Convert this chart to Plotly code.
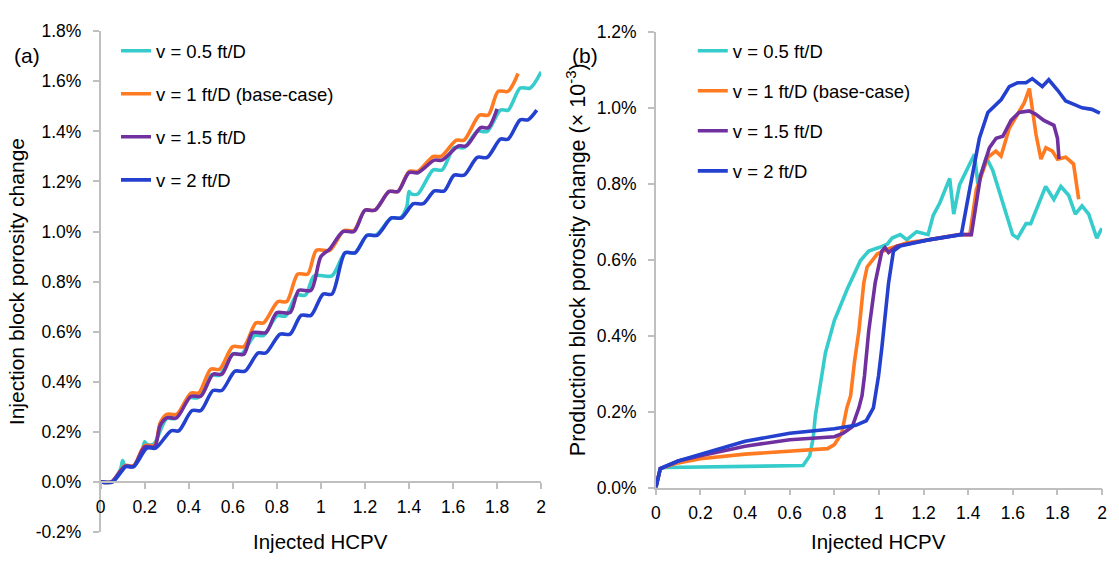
import plotly.graph_objects as go

W, H = 1119, 568

# Series labels and colours (shared by both panels)
series_names = ["v = 0.5 ft/D", "v = 1 ft/D (base-case)", "v = 1.5 ft/D", "v = 2 ft/D"]
series_colors = ["#36CCCC", "#FF7A21", "#7030A0", "#2440CF"]

# ---- (a) Injection block porosity change (%), vs injected HCPV ----
inj_x_v05 = [0, 0.05, 0.09, 0.1, 0.11, 0.15, 0.19, 0.2, 0.21, 0.24, 0.3, 0.34, 0.4, 0.44, 0.5, 0.54,
             0.6, 0.64, 0.7, 0.74, 0.8, 0.84, 0.89, 0.93, 0.97, 1.05, 1.11, 1.155, 1.21, 1.25, 1.32,
             1.36, 1.39, 1.40, 1.41, 1.44, 1.51, 1.55, 1.605, 1.65, 1.71, 1.755, 1.815, 1.85, 1.905,
             1.95, 2.0]
inj_y_v05 = [0, 0, 0.05, 0.085, 0.065, 0.065, 0.13, 0.16, 0.15, 0.15, 0.253, 0.253, 0.336, 0.336,
             0.426, 0.426, 0.511, 0.511, 0.585, 0.585, 0.663, 0.663, 0.746, 0.746, 0.823, 0.823,
             0.915, 0.915, 0.985, 0.985, 1.054, 1.054, 1.10, 1.16, 1.15, 1.15, 1.246, 1.246, 1.335,
             1.335, 1.40, 1.40, 1.485, 1.485, 1.573, 1.573, 1.638]

inj_x_v10 = [0, 0.05, 0.11, 0.15, 0.2, 0.245, 0.27, 0.3, 0.345, 0.41, 0.445, 0.5, 0.54, 0.6, 0.65,
             0.705, 0.74, 0.805, 0.845, 0.895, 0.94, 0.98, 1.04, 1.105, 1.15, 1.2, 1.245, 1.31, 1.35,
             1.4, 1.44, 1.51, 1.545, 1.615, 1.65, 1.72, 1.76, 1.805, 1.85, 1.895]
inj_y_v10 = [0, 0, 0.065, 0.065, 0.145, 0.145, 0.235, 0.27, 0.27, 0.355, 0.355, 0.45, 0.45, 0.54,
             0.54, 0.635, 0.635, 0.72, 0.72, 0.83, 0.83, 0.925, 0.925, 1.004, 1.004, 1.085, 1.085,
             1.16, 1.16, 1.24, 1.24, 1.30, 1.30, 1.365, 1.365, 1.465, 1.465, 1.56, 1.56, 1.631]

inj_x_v15 = [0, 0.05, 0.11, 0.15, 0.2, 0.245, 0.27, 0.3, 0.345, 0.41, 0.455, 0.51, 0.55, 0.6, 0.65,
             0.69, 0.75, 0.8, 0.86, 0.9, 0.955, 1.0, 1.04, 1.1, 1.15, 1.2, 1.245, 1.31, 1.35, 1.4,
             1.44, 1.515, 1.55, 1.625, 1.66, 1.725, 1.76, 1.80]
inj_y_v15 = [0, 0, 0.062, 0.062, 0.14, 0.14, 0.225, 0.256, 0.256, 0.342, 0.342, 0.43, 0.43, 0.51,
             0.51, 0.596, 0.596, 0.676, 0.676, 0.765, 0.765, 0.90, 0.93, 1.0, 1.0, 1.085, 1.085,
             1.16, 1.16, 1.235, 1.235, 1.285, 1.285, 1.342, 1.342, 1.415, 1.415, 1.49]

inj_x_v20 = [0, 0.055, 0.115, 0.15, 0.21, 0.25, 0.32, 0.355, 0.415, 0.455, 0.51, 0.55, 0.61, 0.655,
             0.715, 0.75, 0.815, 0.86, 0.91, 0.955, 1.01, 1.05, 1.11, 1.155, 1.21, 1.255, 1.32,
             1.365, 1.42, 1.465, 1.515, 1.56, 1.605, 1.65, 1.71, 1.755, 1.815, 1.85, 1.905, 1.94,
             1.98]
inj_y_v20 = [0, 0, 0.061, 0.061, 0.135, 0.135, 0.204, 0.204, 0.285, 0.285, 0.365, 0.365, 0.442,
             0.442, 0.515, 0.515, 0.59, 0.59, 0.665, 0.665, 0.75, 0.75, 0.915, 0.915, 0.985, 0.985,
             1.054, 1.054, 1.111, 1.111, 1.162, 1.162, 1.225, 1.225, 1.296, 1.296, 1.369, 1.369,
             1.446, 1.446, 1.485]

# ---- (b) Production block porosity change (%, x 10^-3), vs injected HCPV ----
prod_x_v05 = [0, 0.01, 0.02, 0.04, 0.3, 0.5, 0.66, 0.69, 0.705, 0.715, 0.728, 0.745, 0.76, 0.8,
              0.827, 0.858, 0.917, 0.954, 1.0, 1.037, 1.059, 1.095, 1.125, 1.154, 1.169, 1.22, 1.243,
              1.273, 1.317, 1.335, 1.361, 1.428, 1.443, 1.481, 1.51, 1.56, 1.599, 1.621, 1.659,
              1.68, 1.747, 1.784, 1.815, 1.85, 1.88, 1.91, 1.94, 1.976, 1.999]
prod_y_v05 = [0, 0.03, 0.05, 0.053, 0.056, 0.057, 0.058, 0.084, 0.13, 0.19, 0.242, 0.31, 0.355,
              0.44, 0.479, 0.523, 0.598, 0.623, 0.632, 0.641, 0.657, 0.666, 0.653, 0.666, 0.674,
              0.666, 0.717, 0.75, 0.814, 0.72, 0.797, 0.878, 0.80, 0.87, 0.835, 0.74, 0.666, 0.657,
              0.695, 0.695, 0.793, 0.759, 0.793, 0.77, 0.72, 0.742, 0.72, 0.657, 0.683]

prod_x_v10 = [0, 0.01, 0.02, 0.1, 0.2, 0.4, 0.6, 0.77, 0.8, 0.833, 0.856, 0.873, 0.89, 0.91, 0.932,
              0.947, 0.992, 1.037, 1.126, 1.228, 1.361, 1.407, 1.436, 1.488, 1.524, 1.547, 1.584,
              1.651, 1.674, 1.704, 1.726, 1.748, 1.777, 1.8, 1.837, 1.872, 1.895]
prod_y_v10 = [0, 0.03, 0.05, 0.065, 0.076, 0.088, 0.097, 0.1025, 0.113, 0.143, 0.21, 0.242, 0.33,
              0.412, 0.539, 0.581, 0.615, 0.628, 0.645, 0.653, 0.666, 0.666, 0.784, 0.87, 0.886,
              0.873, 0.946, 1.013, 1.051, 0.929, 0.865, 0.895, 0.886, 0.865, 0.87, 0.852, 0.759]

prod_x_v15 = [0, 0.01, 0.02, 0.1, 0.2, 0.4, 0.6, 0.8, 0.84, 0.88, 0.91, 0.924, 0.935, 0.954, 0.983,
              1.013, 1.027, 1.043, 1.081, 1.228, 1.361, 1.414, 1.435, 1.455, 1.495, 1.525, 1.555,
              1.592, 1.628, 1.673, 1.703, 1.739, 1.784, 1.8, 1.807]
prod_y_v15 = [0, 0.03, 0.05, 0.07, 0.084, 0.109, 0.126, 0.134, 0.143, 0.16, 0.21, 0.242, 0.294,
              0.412, 0.539, 0.623, 0.632, 0.619, 0.636, 0.653, 0.666, 0.666, 0.75, 0.82, 0.895,
              0.92, 0.925, 0.967, 0.988, 0.992, 0.983, 0.967, 0.954, 0.92, 0.865]

prod_x_v20 = [0, 0.01, 0.02, 0.1, 0.2, 0.4, 0.6, 0.8, 0.896, 0.943, 0.975, 0.984, 0.998, 1.013,
              1.043, 1.065, 1.095, 1.228, 1.369, 1.406, 1.45, 1.488, 1.525, 1.548, 1.584, 1.621,
              1.659, 1.687, 1.732, 1.761, 1.8, 1.837, 1.874, 1.91, 1.954, 1.99]
prod_y_v20 = [0, 0.03, 0.05, 0.07, 0.088, 0.122, 0.143, 0.155, 0.164, 0.176, 0.21, 0.242, 0.294,
              0.369, 0.539, 0.623, 0.636, 0.653, 0.666, 0.784, 0.92, 0.988, 1.009, 1.022, 1.056,
              1.066, 1.066, 1.077, 1.056, 1.074, 1.047, 1.018, 1.009, 1.0, 0.996, 0.986]

# Axis ticks
hcpv_ticks = [0, 0.2, 0.4, 0.6, 0.8, 1, 1.2, 1.4, 1.6, 1.8, 2]
hcpv_ticktext = ["0", "0.2", "0.4", "0.6", "0.8", "1", "1.2", "1.4", "1.6", "1.8", "2"]
inj_ticks = [-0.2, 0, 0.2, 0.4, 0.6, 0.8, 1.0, 1.2, 1.4, 1.6, 1.8]
inj_ticktext = ["-0.2%", "0.0%", "0.2%", "0.4%", "0.6%", "0.8%", "1.0%", "1.2%", "1.4%", "1.6%", "1.8%"]
prod_ticks = [0, 0.2, 0.4, 0.6, 0.8, 1.0, 1.2]
prod_ticktext = ["0.0%", "0.2%", "0.4%", "0.6%", "0.8%", "1.0%", "1.2%"]

inj_series = [(inj_x_v05, inj_y_v05), (inj_x_v10, inj_y_v10), (inj_x_v15, inj_y_v15), (inj_x_v20, inj_y_v20)]
prod_series = [(prod_x_v05, prod_y_v05), (prod_x_v10, prod_y_v10), (prod_x_v15, prod_y_v15), (prod_x_v20, prod_y_v20)]

FONT = "Liberation Sans, Arial, sans-serif"
AXIS_GREY = "#BFBFBF"


def fx(px):
    return px / W


def fy(py):
    return 1 - py / H


fig = go.Figure()

for (xs, ys), name, col in zip(inj_series, series_names, series_colors):
    fig.add_trace(go.Scatter(
        x=xs, y=ys, mode="lines", name=name, legend="legend", legendgroup="a" + name,
        line=dict(color=col, width=3.6, shape="spline", smoothing=0.8),
        xaxis="x", yaxis="y"))

for (xs, ys), name, col in zip(prod_series, series_names, series_colors):
    fig.add_trace(go.Scatter(
        x=xs, y=ys, mode="lines", name=name, legend="legend2", legendgroup="b" + name,
        line=dict(color=col, width=3.6),
        xaxis="x2", yaxis="y2"))

# Plot-area geometry
a_dom_x = [fx(96.5), fx(541)]
a_dom_y = [fy(541), fy(22)]
a_rng_y = [-0.2, 1.8]
a_zero = a_dom_y[0] + (0 - a_rng_y[0]) / (a_rng_y[1] - a_rng_y[0]) * (a_dom_y[1] - a_dom_y[0])
b_dom_x = [fx(656.7), fx(1107)]
b_dom_y = [fy(495), fy(22.7)]

axis_common = dict(showgrid=False, zeroline=False, showline=True, linecolor=AXIS_GREY, linewidth=1.5,
                   ticks="outside", ticklen=6, tickwidth=1.5, tickcolor=AXIS_GREY,
                   tickfont=dict(family=FONT, size=17.5, color="#000000"))

fig.update_layout(
    width=W, height=H, margin=dict(l=0, r=0, t=0, b=0),
    paper_bgcolor="white", plot_bgcolor="white",
    font=dict(family=FONT, size=17, color="#000000"),
    xaxis=dict(domain=a_dom_x, range=[0, 2], anchor="free", position=a_zero,
               tickvals=hcpv_ticks, ticktext=hcpv_ticktext, ticklabelstandoff=3, **axis_common),
    yaxis=dict(domain=a_dom_y, range=a_rng_y, anchor="x",
               tickvals=inj_ticks, ticktext=inj_ticktext, ticklabelstandoff=8,
               title=dict(text="Injection block porosity change", font=dict(family=FONT, size=21),
                          standoff=5),
               **axis_common),
    xaxis2=dict(domain=b_dom_x, range=[0, 2], anchor="y2",
                tickvals=hcpv_ticks, ticktext=hcpv_ticktext, ticklabelstandoff=3, **axis_common),
    yaxis2=dict(domain=b_dom_y, range=[0, 1.2], anchor="x2",
                tickvals=prod_ticks, ticktext=prod_ticktext, ticklabelstandoff=8,
                title=dict(text="Production block porosity change (× 10<sup>-3</sup>)",
                           font=dict(family=FONT, size=21.5), standoff=5),
                **axis_common),
    legend=dict(x=fx(112), y=fy(23), xanchor="left", yanchor="top", bgcolor="rgba(0,0,0,0)",
                font=dict(family=FONT, size=18.5), tracegroupgap=16, itemwidth=30),
    legend2=dict(x=fx(694), y=fy(23), xanchor="left", yanchor="top", bgcolor="rgba(0,0,0,0)",
                 font=dict(family=FONT, size=18.5), tracegroupgap=13, itemwidth=30),
    showlegend=True,
    annotations=[
        dict(text="Injected HCPV", x=(a_dom_x[0] + a_dom_x[1]) / 2, y=fy(551), xref="paper", yref="paper",
             xanchor="center", yanchor="middle", showarrow=False, font=dict(family=FONT, size=20.5)),
        dict(text="Injected HCPV", x=(b_dom_x[0] + b_dom_x[1]) / 2, y=fy(551), xref="paper", yref="paper",
             xanchor="center", yanchor="middle", showarrow=False, font=dict(family=FONT, size=20.5)),
        dict(text="(a)", x=fx(22), y=fy(47), xref="paper", yref="paper",
             xanchor="center", yanchor="middle", showarrow=False, font=dict(family=FONT, size=21)),
        dict(text="(b)", x=fx(585), y=fy(47), xref="paper", yref="paper",
             xanchor="center", yanchor="middle", showarrow=False, font=dict(family=FONT, size=21)),
    ],
)

fig.write_html("out.html")
